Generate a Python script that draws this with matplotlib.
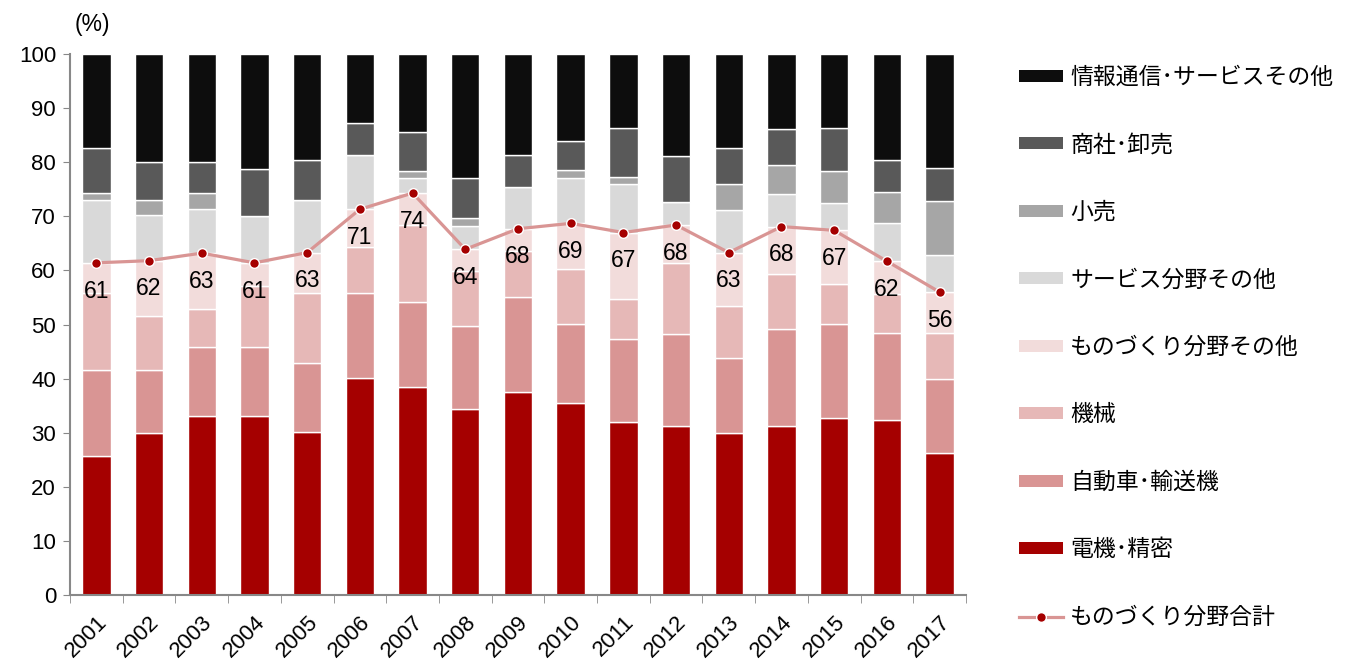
import numpy as np
import matplotlib
matplotlib.use("Agg")
import matplotlib.pyplot as plt
from matplotlib.patches import Patch
from matplotlib.lines import Line2D

plt.rcParams['font.family'] = ['Liberation Sans', 'Noto Sans CJK JP']

years = [str(y) for y in range(2001, 2018)]

# shares by sector (%), stacked bottom to top
denki = [25.7, 30.0, 33.0, 33.0, 30.2, 40.1, 38.5, 34.4, 37.5, 35.5, 31.9, 31.3, 29.9, 31.3, 32.8, 32.3, 26.3]
jidousha = [15.9, 11.5, 12.9, 12.8, 12.7, 15.7, 15.7, 15.4, 17.5, 14.6, 15.5, 16.9, 14.0, 17.9, 17.3, 16.2, 13.6]
kikai = [14.2, 10.1, 7.0, 11.3, 13.0, 8.6, 14.2, 10.0, 8.5, 10.1, 7.4, 13.2, 9.5, 10.1, 7.4, 7.1, 8.5]
mono_other = [5.6, 10.2, 10.3, 4.3, 7.4, 6.9, 5.9, 4.1, 4.2, 8.5, 12.2, 7.0, 9.9, 8.8, 9.9, 6.1, 7.6]
service_other = [11.6, 8.4, 8.2, 8.7, 9.8, 10.0, 2.7, 4.3, 7.8, 8.3, 9.0, 4.3, 7.9, 6.0, 5.0, 7.1, 6.8]
kouri = [1.4, 2.8, 2.9, 0.0, 0.0, 0.0, 1.4, 1.4, 0.0, 1.6, 1.2, 0.0, 4.8, 5.3, 5.9, 5.7, 10.0]
shousha = [8.3, 7.0, 5.7, 8.6, 7.3, 5.9, 7.2, 7.4, 5.8, 5.4, 9.2, 8.5, 6.7, 6.7, 8.1, 6.0, 6.1]
info = [17.3, 20.0, 20.0, 21.3, 19.6, 12.8, 14.4, 23.0, 18.7, 16.0, 13.6, 18.8, 17.3, 13.9, 13.6, 19.5, 21.1]

series = [
    ('電機･精密', denki, '#A50000'),
    ('自動車･輸送機', jidousha, '#D99594'),
    ('機械', kikai, '#E6B8B7'),
    ('ものづくり分野その他', mono_other, '#F2DCDB'),
    ('サービス分野その他', service_other, '#D9D9D9'),
    ('小売', kouri, '#A6A6A6'),
    ('商社･卸売', shousha, '#595959'),
    ('情報通信･サービスその他', info, '#0D0D0D'),
]

# manufacturing total = first four sectors
mono_total = np.sum([denki, jidousha, kikai, mono_other], axis=0)

fig = plt.figure(figsize=(13.54, 6.62), dpi=100)
ax = fig.add_axes([0.0517, 0.1012, 0.6617, 0.8172])

x = np.arange(len(years))
bottom = np.zeros(len(years))
for name, vals, color in series:
    ax.bar(x, vals, bottom=bottom, width=0.54, color=color,
           edgecolor='white', linewidth=1.0, label=name, zorder=2)
    bottom += np.array(vals)

ax.plot(x, mono_total, color='#D99594', linewidth=2.3, marker='o',
        markersize=7, markerfacecolor='#A50000', markeredgecolor='white',
        markeredgewidth=1.0, zorder=4)

for xi, v in zip(x, mono_total):
    ax.annotate(f'{round(v):d}', (xi, v), xytext=(0, -12),
                textcoords='offset points', ha='center', va='top',
                fontsize=16.5, zorder=5)

ax.set_xlim(-0.5, len(years) - 0.5)
ax.set_ylim(0, 100)
ax.set_yticks(np.arange(0, 101, 10))
ax.tick_params(axis='y', labelsize=16, length=5, color='#888888', pad=5)

ax.set_xticks(x)
ax.set_xticklabels(years, rotation=45, ha='right', rotation_mode='anchor',
                   fontsize=16)
ax.set_xticks(np.arange(-0.5, len(years), 1), minor=True)
ax.tick_params(axis='x', which='major', length=0, pad=12)
ax.tick_params(axis='x', which='minor', length=6, color='#888888')

for side in ['top', 'right']:
    ax.spines[side].set_visible(False)
for side in ['left', 'bottom']:
    ax.spines[side].set_color('#888888')
    ax.spines[side].set_linewidth(1.5)

ax.text(0.0246, 1.054, '(%)', transform=ax.transAxes, ha='center',
        va='center', fontsize=16.5)

handles = [Patch(facecolor=c, edgecolor='none') for _, _, c in series[::-1]]
labels = [n for n, _, _ in series[::-1]]
handles.append(Line2D([], [], color='#D99594', linewidth=2.3, marker='o',
                      markersize=7, markerfacecolor='#A50000',
                      markeredgecolor='white'))
labels.append('ものづくり分野合計')
fig.legend(handles, labels, loc='upper left', bbox_to_anchor=(0.746, 0.914),
           frameon=False, fontsize=16.5, handlelength=1.92, handleheight=0.42,
           handletextpad=0.3, labelspacing=1.94, borderaxespad=0)

fig.savefig('out.png', dpi=100)
